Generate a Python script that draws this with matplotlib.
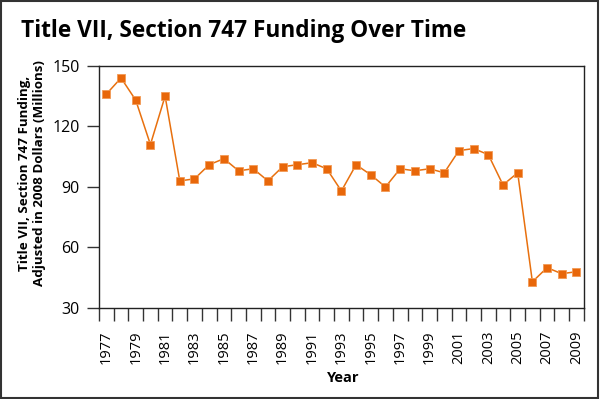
import matplotlib
matplotlib.use("Agg")
import matplotlib.pyplot as plt
from matplotlib.patches import Rectangle
from matplotlib.ticker import FixedLocator

# datos (millones de dolares de 2008)
years = list(range(1977, 2010))
funding = [136, 144, 133, 111, 135, 93, 94, 101, 104, 98, 99, 93, 100, 101, 102,
           99, 88, 101, 96, 90, 99, 98, 99, 97, 108, 109, 106, 91, 97, 43, 50, 47, 48]
y_ticks = [30, 60, 90, 120, 150]

plt.rcParams['font.family'] = ['Open Sans', 'DejaVu Sans']

fig = plt.figure(figsize=(6, 3.99), dpi=100)
ax = fig.add_axes([0.165, 0.228, 0.808, 0.607])

ax.plot(years, funding, color='#E8700E', lw=1.1, marker='s', ms=6,
        mfc='#E8670A', mec='#F29A55', mew=0.6, clip_on=False, zorder=3)

ax.set_xlim(years[0] - 0.5, years[-1] + 0.5)
ax.set_ylim(30, 150)
ax.set_yticks(y_ticks)

# etiquetas en los anos impares, marcas entre categorias
ax.set_xticks(years[::2])
ax.set_xticklabels([str(y) for y in years[::2]], rotation=90, fontsize=10.5)
ax.xaxis.set_minor_locator(FixedLocator([y - 0.5 for y in years] + [years[-1] + 0.5]))
ax.tick_params(axis='x', which='major', length=0, pad=16)
ax.tick_params(axis='x', which='minor', length=9, width=1, color='#333333', direction='out')
ax.tick_params(axis='y', length=9, width=1, color='#333333', labelsize=11.5, pad=5)

for s in ax.spines.values():
    s.set_color('#222222')
    s.set_linewidth(1)

fig.text(0.572, 0.053, 'Year', ha='center', va='center', fontsize=10.5, fontweight='bold')

fig.text(0.053, 0.566, 'Title VII, Section 747 Funding,\nAdjusted in 2008 Dollars (Millions)',
         rotation=90, ha='center', va='center', multialignment='center',
         fontsize=9.6, fontweight='bold', linespacing=1.2)

fig.text(0.035, 0.922, 'Title VII, Section 747 Funding Over Time',
         ha='left', va='center', fontsize=16.3, fontweight='bold')

# marco exterior
fig.patches.append(Rectangle((0.002, 0.003), 0.994, 0.994, transform=fig.transFigure,
                             fill=False, edgecolor='#333333', lw=1.5))

fig.savefig('out.png', dpi=100)
